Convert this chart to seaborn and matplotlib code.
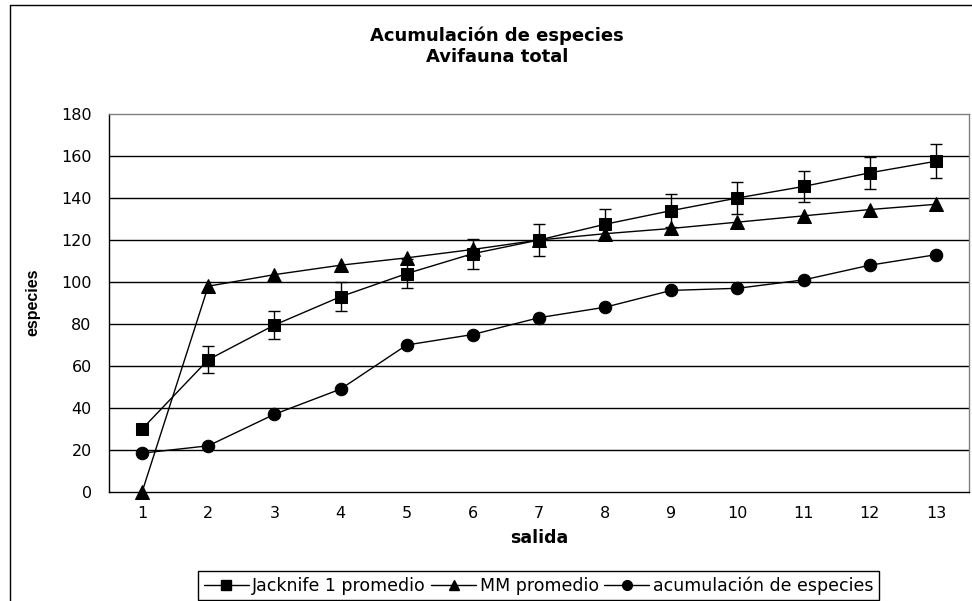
import matplotlib
matplotlib.use("Agg")
import matplotlib.pyplot as plt
import seaborn as sns
import pandas as pd
from matplotlib.lines import Line2D

# Sampling outings
salidas = list(range(1, 14))

# Species estimators per outing
jacknife = [30, 63, 79.5, 93, 104, 113.5, 120, 127.5, 134, 140, 145.5, 152, 157.5]
jacknife_err = [0, 6.5, 6.5, 6.8, 7, 7.2, 7.4, 7.2, 7.8, 7.8, 7.4, 7.7, 8]
mm = [0, 98, 103.5, 108, 111.5, 115.5, 120, 123, 125.5, 128.5, 131.5, 134.5, 137]
acumulacion = [18.5, 22, 37, 49, 70, 75, 83, 88, 96, 97, 101, 108, 113]

series_names = ["Jacknife 1 promedio", "MM promedio", "acumulación de especies"]
series_values = [jacknife, mm, acumulacion]
series_markers = ["s", "^", "o"]
series_msize = [9, 10, 9]

df = pd.concat(
    [pd.DataFrame({"salida": salidas, "especies": v, "serie": n})
     for n, v in zip(series_names, series_values)],
    ignore_index=True,
)

sns.set_style("white")
plt.rcParams["font.family"] = ["DejaVu Sans"]
plt.rcParams.update({"text.color": "black", "axes.labelcolor": "black",
                     "xtick.color": "black", "ytick.color": "black"})

W, H = 972, 601
fig = plt.figure(figsize=(W / 100, H / 100), dpi=100)
ax = fig.add_axes([109 / W, (H - 492) / H, 860 / W, 378 / H])

for name, mk, ms in zip(series_names, series_markers, series_msize):
    sns.lineplot(
        data=df[df["serie"] == name], x="salida", y="especies", ax=ax,
        color="black", linewidth=1, marker=mk, markersize=ms,
        markeredgecolor="black", markerfacecolor="black",
        legend=False, zorder=4,
    )
# Markers sitting on the axis stay fully visible
for line in ax.lines:
    line.set_clip_on(False)

ax.errorbar(salidas, jacknife, yerr=jacknife_err, fmt="none",
            ecolor="black", elinewidth=1, capsize=4.5, capthick=1, zorder=3)

ax.set_xlim(0.5, 13.5)
ax.set_ylim(0, 180)
ax.set_yticks(range(0, 181, 20))
ax.set_xticks(salidas)
ax.set_xticks([i + 0.5 for i in range(0, 14)], minor=True)
ax.tick_params(axis="x", which="major", length=0, pad=10, labelsize=11.5)
ax.tick_params(axis="x", which="minor", length=5, width=1, color="black", direction="out")
ax.tick_params(axis="y", which="major", length=5, width=1, color="black",
               direction="out", pad=7.5, labelsize=11.5)

# Horizontal gridlines
for y in range(20, 180, 20):
    ax.axhline(y, color="black", linewidth=1, zorder=1)

for side in ["top", "right"]:
    ax.spines[side].set_color("#808080")
    ax.spines[side].set_linewidth(1)
for side in ["left", "bottom"]:
    ax.spines[side].set_color("black")
    ax.spines[side].set_linewidth(1)

ax.set_xlabel("salida", fontsize=12.5, fontweight="bold", labelpad=6, color="black")
ax.set_ylabel("especies", fontsize=11.5, fontweight="bold", color="black",
              family=["Liberation Sans", "DejaVu Sans"])
ax.yaxis.set_label_coords(40 / W, (H - 302) / H, transform=fig.transFigure)

fig.text(497 / W, 1 - 36 / H, "Acumulación de especies", ha="center", va="center",
         fontsize=13, fontweight="bold", color="black")
fig.text(497 / W, 1 - 57 / H, "Avifauna total", ha="center", va="center",
         fontsize=13, fontweight="bold", color="black")

legend_handles = [
    Line2D([], [], color="black", linewidth=1, marker=mk, markersize=7,
           markeredgecolor="black", markerfacecolor="black")
    for mk in series_markers
]
leg = fig.legend(legend_handles, series_names, loc="center",
                 bbox_to_anchor=(538.5 / W, 1 - 585.5 / H),
                 ncol=3, frameon=True, fontsize=12.5, handlelength=2.6, handletextpad=0.2,
                 columnspacing=0.3, borderpad=0.3, borderaxespad=0, fancybox=False,
                 edgecolor="black", framealpha=1)
leg.get_frame().set_linewidth(1)
for t in leg.get_texts():
    t.set_color("black")

# Chart area border
fig.add_artist(Line2D([10 / W, 10 / W], [0, 1 - 5 / H], transform=fig.transFigure,
                      color="black", linewidth=1))
fig.add_artist(Line2D([10 / W, 1], [1 - 5 / H, 1 - 5 / H], transform=fig.transFigure,
                      color="black", linewidth=1))

fig.savefig("out.png", dpi=100)
